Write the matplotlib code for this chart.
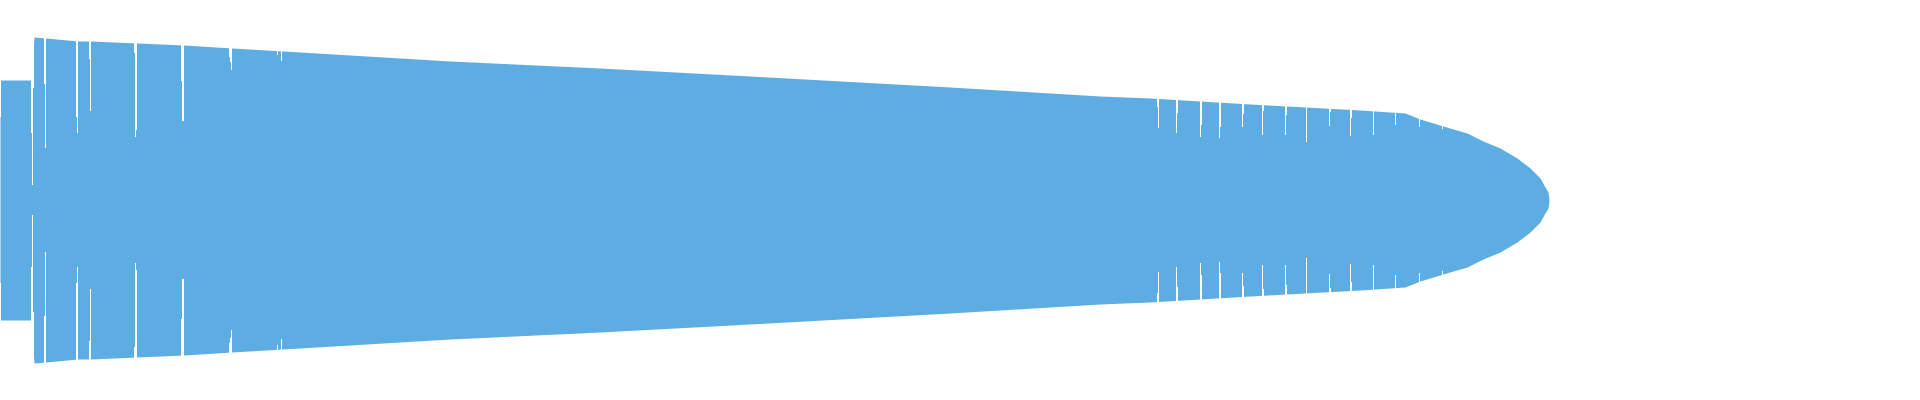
import numpy as np
from matplotlib import pyplot as plt

# envelope of the waveform: position (px column) and half-height (amplitude)
env_x = [0, 31, 34, 46, 78, 91, 137, 184, 232, 283, 300, 450, 600, 750, 950,
         1100, 1150, 1250, 1360, 1405, 1420, 1443, 1467, 1483, 1500, 1517,
         1530, 1540, 1545, 1548, 1549]
env_amp = [120, 120, 163, 162, 159, 159, 157, 155, 152, 149, 148, 139, 132, 124, 113,
           104, 102, 96, 90, 87, 81, 74, 67, 59, 52, 42,
           32, 22, 13, 8, 0]

# dips in the signal: left edge, remaining amplitude, width
notch_x = [0, 31, 32, 33, 44, 45, 76, 77, 89, 90, 134, 135, 136, 181, 182,
           229, 230, 231, 277, 281,
           1157, 1158, 1176, 1177, 1200, 1201, 1219, 1220, 1242, 1243, 1262, 1263,
           1285, 1286, 1306, 1329, 1330, 1350, 1351, 1373, 1395, 1419, 1442]
notch_amp = [83, 67, 15, 112, 116, 52, 83, 67, 141, 89, 147, 63, 70, 119, 79,
             143, 138, 130, 145, 139,
             93, 72, 67, 87, 63, 75, 62, 73, 73, 86, 65, 89,
             65, 85, 58, 74, 88, 64, 82, 65, 75, 73, 71]
notch_w = [1, 1, 1, 1, 1, 1, 1, 1, 1, 1, 1, 1, 1, 1, 2,
           1, 1, 1, 1, 1,
           1, 1, 1, 1, 1, 1, 1, 1, 1, 1, 1, 1,
           1, 1, 1, 1, 1, 1, 1, 1, 1, 1, 1]

color = '#5DADE2'

fig = plt.figure(figsize=(19.2, 4), dpi=100)
ax = fig.add_axes([0, 0, 1, 1])

env_x = np.array(env_x)
env_amp = np.array(env_amp)
ax.fill_between(env_x, -env_amp, env_amp, color=color, linewidth=0, antialiased=False)

notch_amp = np.array(notch_amp)
ax.bar(notch_x, 250, bottom=notch_amp, width=notch_w, align='edge',
       color='white', linewidth=0, antialiased=False)
ax.bar(notch_x, 250, bottom=-notch_amp - 250, width=notch_w, align='edge',
       color='white', linewidth=0, antialiased=False)

ax.set_xlim(0, 1920)
ax.set_ylim(-200, 200)
ax.axis('off')

plt.savefig('out.png', dpi=100, facecolor='white')
